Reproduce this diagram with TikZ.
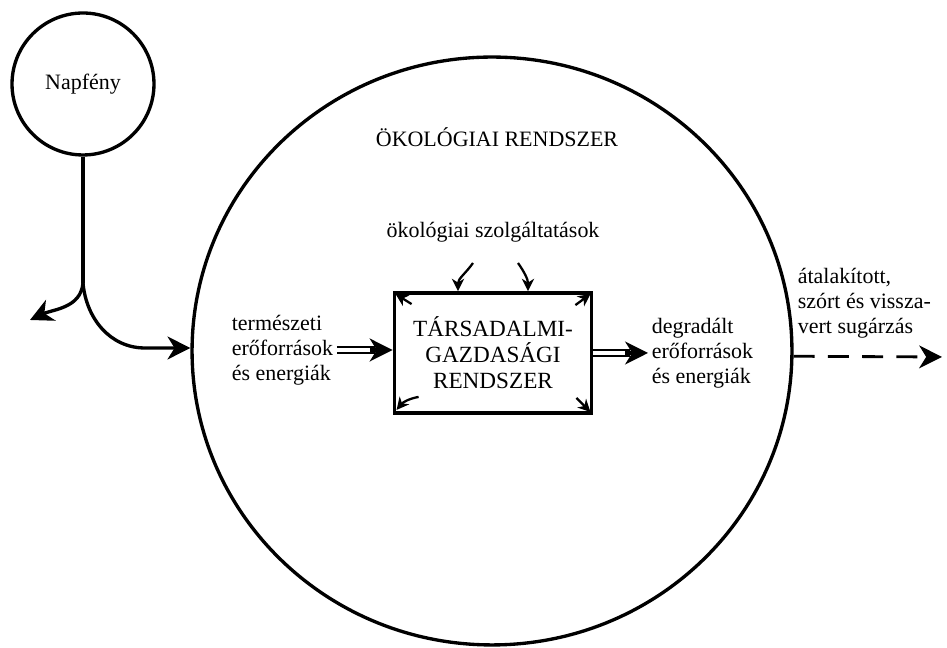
\documentclass[tikz,border=0pt]{standalone}
\usepackage{fontspec}
\setmainfont{Liberation Serif}
\usetikzlibrary{arrows.meta,shapes.geometric}

\begin{document}
\begin{tikzpicture}[x=0.02cm, y=0.02cm,
    txt/.style={font=\fontsize{12.5}{14.3}\selectfont, inner sep=2pt},
    arr/.style={line width=1.9pt, -{Stealth[length=13pt, width=13pt, inset=4pt]}},
    small arr/.style={line width=1.3pt, -{Stealth[length=7pt, width=7pt, inset=2.2pt]}},
    dbl/.style={double, double distance=2.4pt, line width=1.3pt}]
  \useasboundingbox (0,0) rectangle (947,648);

  % Sun
  \node (sun) [txt, draw, circle, line width=1.9pt, minimum size=2.84cm, inner sep=0pt] at (83,564) {Napfény};
  \coordinate (split) at (83,365);
  \coordinate (left tip) at (30,328);
  \coordinate (bend) at (145,300);

  % Ecological system
  \node (eco) [draw, ellipse, line width=1.9pt, minimum width=12cm, minimum height=11.76cm, inner sep=0pt] at (492,297) {};
  \node (title) [txt] at (497,511) {ÖKOLÓGIAI RENDSZER};
  \node (serv) [txt] at (493,416) {ökológiai szolgáltatások};

  % Socio-economic system
  \node (box) [draw, line width=2.2pt, minimum width=3.94cm, minimum height=2.4cm, align=center,
               font=\fontsize{13.2}{14.8}\selectfont] at (493,295) {TÁRSADALMI-\\GAZDASÁGI\\RENDSZER};

  % Inputs and outputs
  \node (nat) [txt, align=left, anchor=west] at (228,298) {természeti\\erőforrások\\és energiák};
  \node (deg) [txt, align=left, anchor=west] at (648,295) {degradált\\erőforrások\\és energiák};
  \node (rad) [txt, align=left, anchor=west] at (794,345) {átalakított,\\szórt és vissza-\\vert sugárzás};
  \coordinate (in1) at (nat.east -| box.west);
  \coordinate (out1) at (box.east -| deg.west);
  \coordinate (rad end) at (942,291);

  % Sunlight
  \draw[line width=1.9pt] (sun) -- (split);
  \draw[arr] (split) to[out=-95, in=25] (left tip);
  \draw[arr] (split) to[out=-85, in=180] (bend) -- (bend -| eco.west);

  % Double arrows
  \draw[dbl, shorten >=10pt] (nat.east) -- (in1);
  \draw[arr] ([xshift=-13pt]in1) -- (in1);
  \draw[dbl, shorten >=10pt] (box.east) -- (out1);
  \draw[arr] ([xshift=-13pt]out1) -- (out1);

  % Radiation
  \draw[arr, line width=1.6pt, dash pattern=on 12pt off 7.5pt] (eco.-1) -- (rad end);

  % Ecological services
  \coordinate (s1) at (473,385);
  \coordinate (s2) at (518,385);
  \draw[small arr] (s1) to[out=-125, in=90] ([xshift=-0.7cm]box.north);
  \draw[small arr] (s2) to[out=-55, in=90] ([xshift=0.7cm]box.north);

  % Corner arrows
  \draw[small arr] ([shift={(19,-13)}]box.north west) -- ([shift={(3,-3)}]box.north west);
  \draw[small arr] ([shift={(-18,-14)}]box.north east) -- ([shift={(-3,-3)}]box.north east);
  \draw[small arr] ([shift={(26,18)}]box.south west) to[bend right=20] ([shift={(4,5)}]box.south west);
  \draw[small arr] ([shift={(-17,17)}]box.south east) -- ([shift={(-3,3)}]box.south east);
\end{tikzpicture}
\end{document}
